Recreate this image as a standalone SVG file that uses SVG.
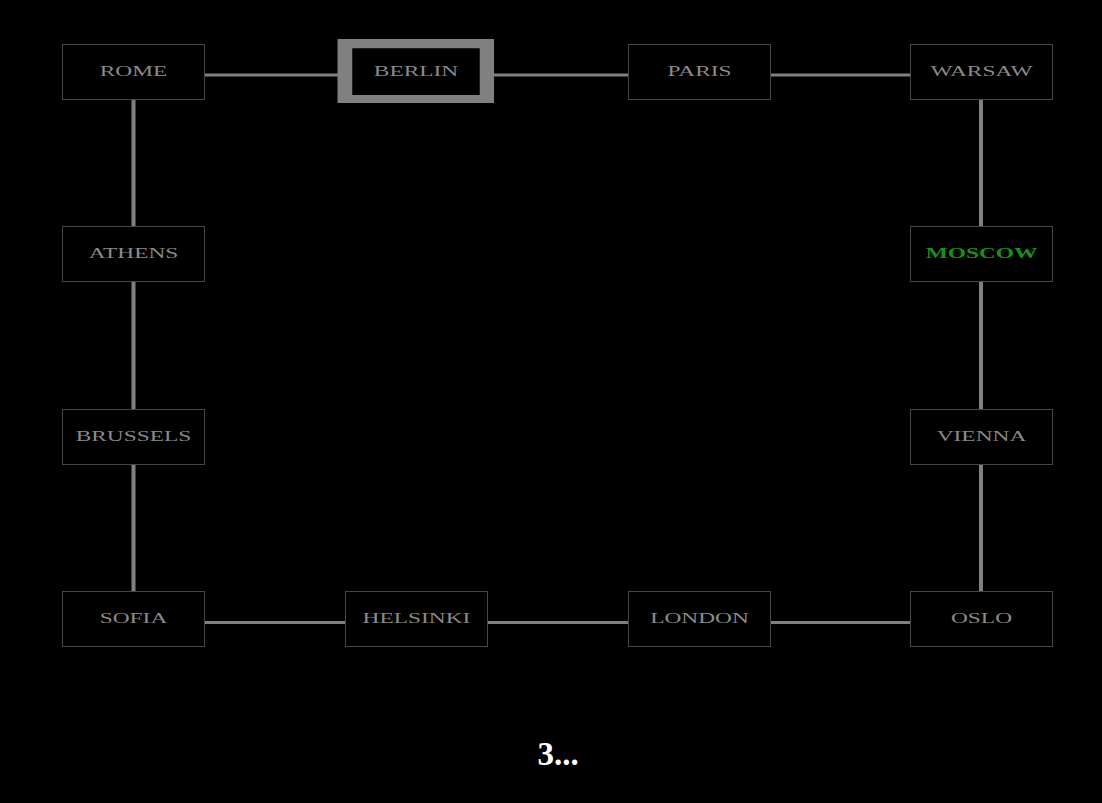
<svg xmlns="http://www.w3.org/2000/svg" width="1102" height="803" viewBox="0 0 1102 803">
<style>
.box{fill:#000;stroke:#464646;stroke-width:1}
.lbl{font-family:"Liberation Serif","Times New Roman",serif;font-size:15px;fill:#8a8a8a;text-anchor:middle}
.hot{fill:#1a8f1a;font-weight:bold}
.h{stroke:#808080;stroke-width:3;fill:none}
.v{stroke:#808080;stroke-width:4;fill:none}
</style>
<rect width="1102" height="803" fill="#000"/>
<g id="connectors">
<line class="h" x1="204" y1="75" x2="345" y2="75"/>
<line class="h" x1="487" y1="75" x2="628" y2="75"/>
<line class="h" x1="770" y1="75" x2="910" y2="75"/>
<line class="h" x1="204" y1="622.5" x2="345" y2="622.5"/>
<line class="h" x1="487" y1="622.5" x2="628" y2="622.5"/>
<line class="h" x1="770" y1="622.5" x2="910" y2="622.5"/>
<line class="v" x1="133.5" y1="99" x2="133.5" y2="226"/>
<line class="v" x1="133.5" y1="281" x2="133.5" y2="409"/>
<line class="v" x1="133.5" y1="464" x2="133.5" y2="591"/>
<line class="v" x1="981" y1="99" x2="981" y2="226"/>
<line class="v" x1="981" y1="281" x2="981" y2="409"/>
<line class="v" x1="981" y1="464" x2="981" y2="591"/>
</g>
<g id="rome"><rect class="box" x="62.5" y="44.5" width="142" height="55"/><text class="lbl" transform="translate(133.5,75.5) scale(1.56,1)">ROME</text></g>
<g id="berlin"><path d="M337.5 39H494V103H337.5Z M352.5 48.5V95H479.5V48.5Z" fill="#808080" fill-rule="evenodd"/><rect x="352.5" y="48.5" width="127" height="46.5" fill="#000"/><text class="lbl" transform="translate(416,75.5) scale(1.56,1)">BERLIN</text></g>
<g id="paris"><rect class="box" x="628.5" y="44.5" width="142" height="55"/><text class="lbl" transform="translate(699.5,75.5) scale(1.56,1)">PARIS</text></g>
<g id="warsaw"><rect class="box" x="910.5" y="44.5" width="142" height="55"/><text class="lbl" transform="translate(981.5,75.5) scale(1.56,1)">WARSAW</text></g>
<g id="athens"><rect class="box" x="62.5" y="226.5" width="142" height="55"/><text class="lbl" transform="translate(133.5,258) scale(1.56,1)">ATHENS</text></g>
<g id="moscow"><rect class="box" x="910.5" y="226.5" width="142" height="55"/><text class="lbl hot" transform="translate(981.5,258) scale(1.56,1)">MOSCOW</text></g>
<g id="brussels"><rect class="box" x="62.5" y="409.5" width="142" height="55"/><text class="lbl" transform="translate(133.5,440.5) scale(1.56,1)">BRUSSELS</text></g>
<g id="vienna"><rect class="box" x="910.5" y="409.5" width="142" height="55"/><text class="lbl" transform="translate(981.5,440.5) scale(1.56,1)">VIENNA</text></g>
<g id="sofia"><rect class="box" x="62.5" y="591.5" width="142" height="55"/><text class="lbl" transform="translate(133.5,622.8) scale(1.56,1)">SOFIA</text></g>
<g id="helsinki"><rect class="box" x="345.5" y="591.5" width="142" height="55"/><text class="lbl" transform="translate(416.5,622.8) scale(1.56,1)">HELSINKI</text></g>
<g id="london"><rect class="box" x="628.5" y="591.5" width="142" height="55"/><text class="lbl" transform="translate(699.5,622.8) scale(1.56,1)">LONDON</text></g>
<g id="oslo"><rect class="box" x="910.5" y="591.5" width="142" height="55"/><text class="lbl" transform="translate(981.5,622.8) scale(1.56,1)">OSLO</text></g>
<text x="558" y="765" font-family="'Liberation Serif','Times New Roman',serif" font-size="33" font-weight="bold" fill="#fff" text-anchor="middle">3...</text>
</svg>
